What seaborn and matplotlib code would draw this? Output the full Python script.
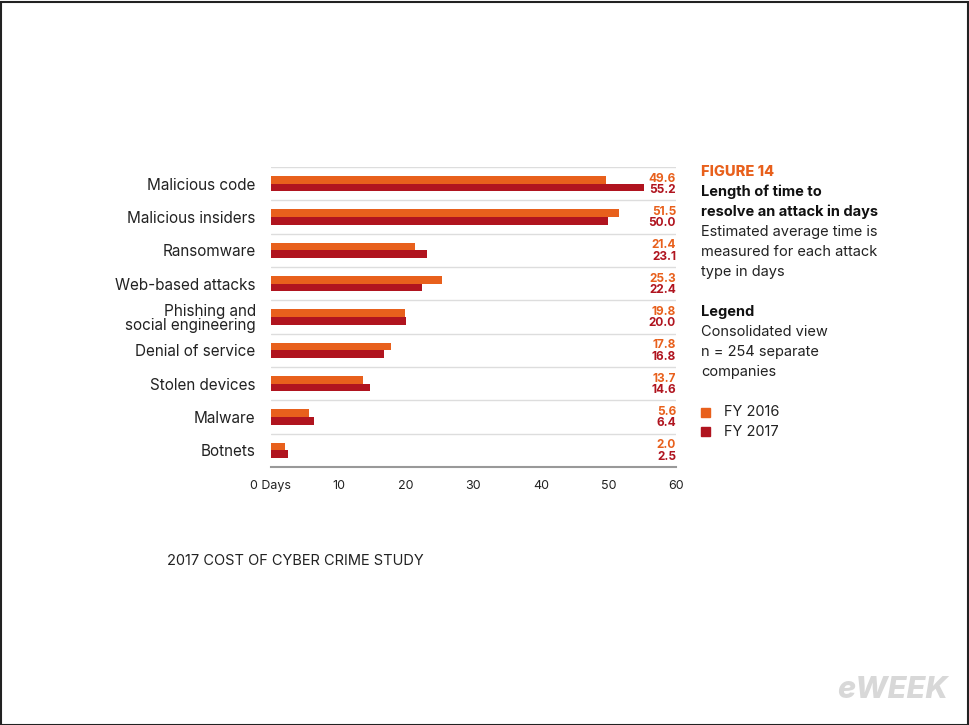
import pandas as pd
import matplotlib.pyplot as plt
import seaborn as sns
from matplotlib.patches import Rectangle

categories = ['Malicious code', 'Malicious insiders', 'Ransomware', 'Web-based attacks',
              'Phishing and\nsocial engineering', 'Denial of service', 'Stolen devices',
              'Malware', 'Botnets']
fy2016 = [49.6, 51.5, 21.4, 25.3, 19.8, 17.8, 13.7, 5.6, 2.0]
fy2017 = [55.2, 50.0, 23.1, 22.4, 20.0, 16.8, 14.6, 6.4, 2.5]
xticks = [0, 10, 20, 30, 40, 50, 60]
xlabels = ['0 Days', '10', '20', '30', '40', '50', '60']

c16 = '#e8601c'
c17 = '#b0141f'

df = pd.DataFrame({'cat': categories * 2,
                   'val': fy2016 + fy2017,
                   'year': ['FY 2016'] * 9 + ['FY 2017'] * 9})

sns.set_style('white')
plt.rcParams['font.family'] = ['Inter', 'DejaVu Sans']

fig = plt.figure(figsize=(9.7, 7.25), dpi=100)
ax = fig.add_axes([271 / 970, 1 - 467 / 725, 405 / 970, 300 / 725])

sns.barplot(data=df, y='cat', x='val', hue='year', orient='h',
            palette=[c16, c17], width=0.46, saturation=1, linewidth=0,
            ax=ax, legend=False)

ax.set_xlim(0, 60)
ax.set_ylim(8.5, -0.5)
ax.set_xticks(xticks)
ax.set_xticklabels(xlabels, fontsize=9, color='#222222')
ax.set_xlabel('')
ax.set_ylabel('')
ax.tick_params(axis='y', length=0, labelsize=11, pad=11)
ax.tick_params(axis='x', direction='out', length=5, color='#888888', width=1.2, pad=4)
for lab in ax.get_yticklabels():
    lab.set_color('#222222')
    lab.set_linespacing(0.95)

for s in ['top', 'right', 'left']:
    ax.spines[s].set_visible(False)
ax.spines['bottom'].set_color('#999999')
ax.spines['bottom'].set_linewidth(1.5)

for i in range(9):
    ax.axhline(i - 0.5, color='#dddddd', lw=1, zorder=0)

for i, (a, b) in enumerate(zip(fy2016, fy2017)):
    ax.text(60, i - 0.15, f'{a:.1f}', ha='right', va='center', fontsize=8.5,
            fontweight='bold', color=c16)
    ax.text(60, i + 0.19, f'{b:.1f}', ha='right', va='center', fontsize=8.5,
            fontweight='bold', color=c17)

tx = 701 / 970
fig.text(tx, 1 - 172 / 725, 'FIGURE 14', fontsize=10.5, fontweight='heavy', color=c16, va='center')
fig.text(tx, 1 - 192 / 725, 'Length of time to', fontsize=10.5, fontweight='bold', color='#111111', va='center')
fig.text(tx, 1 - 212 / 725, 'resolve an attack in days', fontsize=10.5, fontweight='bold', color='#111111', va='center')
fig.text(tx, 1 - 232 / 725, 'Estimated average time is', fontsize=10.5, color='#222222', va='center')
fig.text(tx, 1 - 252 / 725, 'measured for each attack', fontsize=10.5, color='#222222', va='center')
fig.text(tx, 1 - 272 / 725, 'type in days', fontsize=10.5, color='#222222', va='center')
fig.text(tx, 1 - 312 / 725, 'Legend', fontsize=10.5, fontweight='bold', color='#111111', va='center')
fig.text(tx, 1 - 332 / 725, 'Consolidated view', fontsize=10.5, color='#222222', va='center')
fig.text(tx, 1 - 352 / 725, 'n = 254 separate', fontsize=10.5, color='#222222', va='center')
fig.text(tx, 1 - 372 / 725, 'companies', fontsize=10.5, color='#222222', va='center')

for j, (lbl, c) in enumerate([('FY 2016', c16), ('FY 2017', c17)]):
    yy = 1 - (412 + 20 * j) / 725
    fig.patches.append(Rectangle((701 / 970, yy - 4.5 / 725), 9 / 970, 9 / 725,
                                 transform=fig.transFigure, color=c, figure=fig))
    fig.text(724 / 970, yy, lbl, fontsize=10.5, color='#222222', va='center')

fig.text(167 / 970, 1 - 561 / 725, '2017 COST OF CYBER CRIME STUDY', fontsize=10.5,
         color='#222222', va='center')

fig.text(948 / 970, 1 - 690 / 725, 'eWEEK', fontsize=22, fontweight='heavy', style='italic',
         color='#d8d8d8', ha='right', va='center')

fig.patches.append(Rectangle((0.5 / 970, 0.5 / 725), 968 / 970, 723 / 725, fill=False,
                             edgecolor='#222222', lw=1.5, transform=fig.transFigure, figure=fig))

fig.savefig('out.png', dpi=100, facecolor='white')
